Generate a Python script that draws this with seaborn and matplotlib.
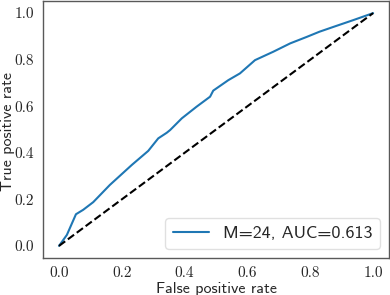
import matplotlib
matplotlib.use("Agg")
import matplotlib.pyplot as plt
import seaborn as sns
import pandas as pd

# ROC curve values
fpr = [0.0, 0.025, 0.054, 0.077, 0.109, 0.162, 0.232, 0.284, 0.316, 0.343,
       0.354, 0.391, 0.438, 0.481, 0.491, 0.539, 0.576, 0.624, 0.682, 0.736,
       0.789, 0.829, 0.874, 0.937, 1.0]
tpr = [0.0, 0.047, 0.136, 0.155, 0.188, 0.262, 0.348, 0.408, 0.462, 0.486,
       0.498, 0.548, 0.598, 0.641, 0.667, 0.712, 0.741, 0.798, 0.834, 0.870,
       0.898, 0.920, 0.941, 0.970, 1.0]
chance = [0.0, 1.0]
curve_label = "M=24, AUC=0.613"
tick_values = [0.0, 0.2, 0.4, 0.6, 0.8, 1.0]

sns.set_style("white")
plt.rcParams["font.family"] = ["cmss10", "DejaVu Sans"]
plt.rcParams["axes.unicode_minus"] = False

df = pd.DataFrame({"fpr": fpr, "tpr": tpr})

fig, ax = plt.subplots(figsize=(3.9, 2.95), dpi=100)
fig.subplots_adjust(left=0.111, right=0.997, bottom=0.127, top=0.995)

sns.lineplot(data=df, x="fpr", y="tpr", color="#1f77b4", linewidth=1.5,
             label=curve_label, ax=ax, estimator=None, sort=False)
sns.lineplot(x=chance, y=chance, color="black", linestyle="--",
             linewidth=1.5, ax=ax)

ax.set_xticks(tick_values)
ax.set_yticks(tick_values)
ax.set_xticklabels([f"{v:.1f}" for v in tick_values], family="cmr10", fontsize=11)
ax.set_yticklabels([f"{v:.1f}" for v in tick_values], family="cmr10", fontsize=11)
ax.tick_params(direction="out", length=3.5, width=0.8, color="0.3", pad=3)

ax.set_xlabel("False positive rate", fontsize=11.5, labelpad=1)
ax.set_ylabel("")
# place the y label by hand so it stays inside the figure
fig.text(0.003, 0.555, "True positive rate", rotation=90, fontsize=11.5,
         ha="left", va="center")

for sp in ax.spines.values():
    sp.set_color("0.35")
    sp.set_linewidth(1.0)

ax.legend(loc="lower right", fontsize=13, frameon=True, fancybox=True,
          edgecolor="0.85")

fig.savefig("out.png", dpi=100)
